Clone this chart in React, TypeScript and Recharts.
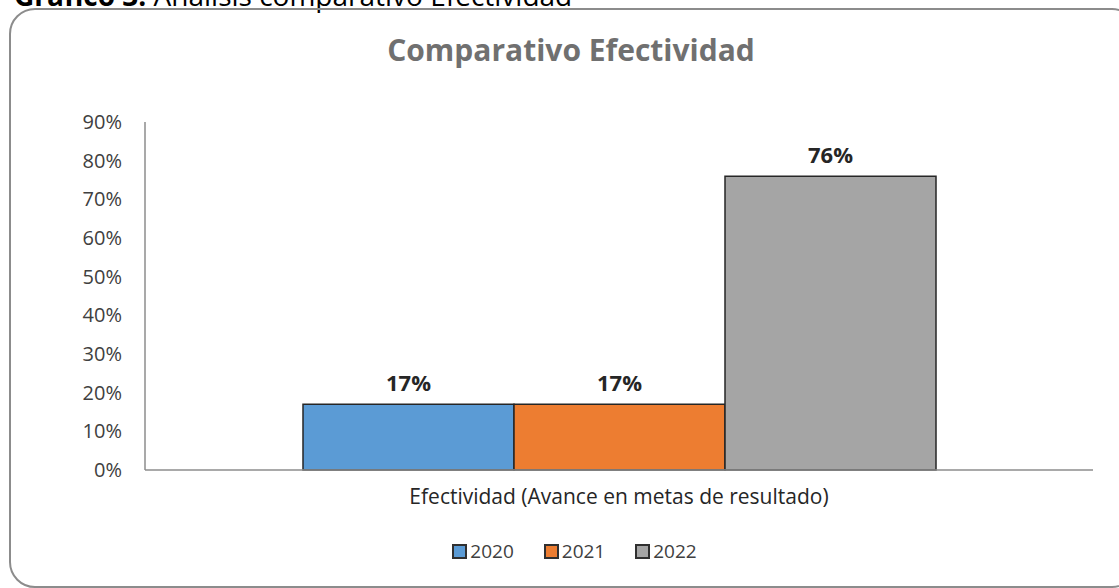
import { BarChart, Bar, XAxis, YAxis, Legend, LabelList } from "recharts";

const categories = ["Efectividad (Avance en metas de resultado)"];
const years = ["2020", "2021", "2022"];
const values2020 = [0.17];
const values2021 = [0.17];
const values2022 = [0.76];
const yTicks = [0, 0.1, 0.2, 0.3, 0.4, 0.5, 0.6, 0.7, 0.8, 0.9];

const colors = ["#5b9bd5", "#ed7d31", "#a5a5a5"];
const seriesValues = [values2020, values2021, values2022];

const data = categories.map((name, i) => {
  const row: Record<string, string | number> = { name };
  years.forEach((y, j) => (row[y] = seriesValues[j][i]));
  return row;
});

const pct = (v: number) => `${Math.round(v * 100)}%`;
const font = "'Open Sans', sans-serif";

const renderLegend = () => (
  <div style={{ display: "flex", justifyContent: "center", gap: 30, fontFamily: font, fontSize: 19, lineHeight: "20px", color: "#404040", paddingLeft: 30, height: 20 }}>
    {years.map((y, i) => (
      <div key={y} style={{ display: "flex", alignItems: "center", gap: 3 }}>
        <span style={{ width: 11, height: 11, background: colors[i], border: "2px solid #303030", display: "inline-block" }} />
        <span>{y}</span>
      </div>
    ))}
  </div>
);

export default function App() {
  return (
    <div style={{ position: "fixed", left: 0, top: 0, width: 1119, height: 588, background: "#fff", overflow: "hidden" }}>
      {/* caption cut by the page top */}
      <div style={{ position: "absolute", left: 14, top: -19, fontFamily: font, fontSize: 28, lineHeight: "28px", color: "#000", whiteSpace: "nowrap" }}>
        <b>Gráfico 3:</b> Análisis comparativo Efectividad
      </div>
      <div style={{ position: "absolute", left: 9, top: 8, width: 1125, height: 576, border: "2px solid #8c8c8c", borderRadius: 26 }} />
      <div style={{ position: "absolute", left: 0, top: 30, width: 1142, textAlign: "center", fontFamily: font, fontWeight: 700, fontSize: 30, lineHeight: "40px", color: "#707070" }}>
        Comparativo Efectividad
      </div>
      <div style={{ position: "absolute", left: 0, top: 0 }}>
        <BarChart width={1119} height={588} data={data} margin={{ top: 122, right: 26, left: 85, bottom: 68 }} barCategoryGap={158} barGap={0}>
          <XAxis dataKey="name" stroke="#8c8c8c" strokeWidth={1.5} tickLine={false} tickSize={0} tickMargin={19}
            tick={{ fontFamily: font, fontSize: 21, fill: "#262626" }} height={30} />
          <YAxis domain={[0, 0.9]} ticks={yTicks} tickFormatter={pct} width={60} stroke="#8c8c8c" strokeWidth={1.5}
            tickLine={false} tickSize={0} tickMargin={23} interval={0}
            tick={{ fontFamily: font, fontSize: 20, fill: "#404040" }} />
          <Legend content={renderLegend} verticalAlign="bottom" wrapperStyle={{ left: 0, width: 1119, bottom: 27, height: 20 }} />
          {years.map((y, i) => (
            <Bar key={y} dataKey={y} fill={colors[i]} stroke="#262626" strokeWidth={1.5} isAnimationActive={false}>
              <LabelList dataKey={y} position="top" offset={13} formatter={(v: number) => pct(v)}
                style={{ fontFamily: font, fontSize: 22, fontWeight: 700, fill: "#262626" }} />
            </Bar>
          ))}
        </BarChart>
      </div>
    </div>
  );
}
